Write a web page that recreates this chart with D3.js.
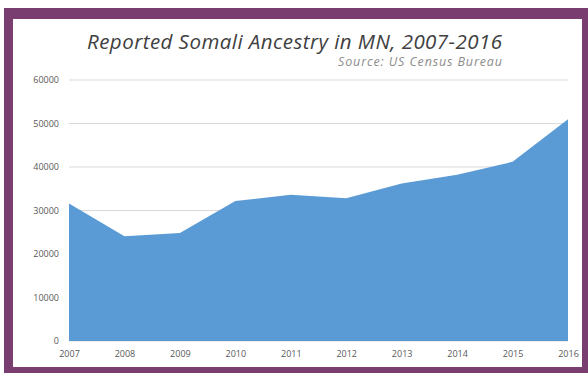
<!DOCTYPE html>
<html>
<head>
<meta charset="utf-8">
<script src="https://cdn.jsdelivr.net/npm/d3@7/dist/d3.min.js"></script>
<style>
  html, body { margin: 0; padding: 0; background: #ffffff; }
  svg { display: block; }
</style>
</head>
<body>
<svg id="chart" width="588" height="373"></svg>
<script>
// Reported Somali ancestry in Minnesota, by year (ACS estimates)
const years = [2007, 2008, 2009, 2010, 2011, 2012, 2013, 2014, 2015, 2016];
const population = [31600, 24100, 24800, 32200, 33600, 32800, 36200, 38200, 41200, 51000];
const yTicks = [0, 10000, 20000, 30000, 40000, 50000, 60000];
const titleText = "Reported Somali Ancestry in MN, 2007-2016";
const sourceText = "Source: US Census Bureau";

const svg = d3.select("#chart");
const W = 588, H = 373;

// purple card frame
svg.append("rect").attr("x", 0).attr("y", 0).attr("width", W).attr("height", H).attr("fill", "#ffffff");
svg.append("rect").attr("x", 4).attr("y", 8).attr("width", W - 4).attr("height", H - 8).attr("fill", "#7a3d70");
svg.append("rect").attr("x", 13).attr("y", 19).attr("width", 569).attr("height", 348).attr("fill", "#ffffff");

const x = d3.scaleLinear().domain([years[0], years[years.length - 1]]).range([69, 568]);
const y = d3.scaleLinear().domain([0, 60000]).range([341, 80]);

// horizontal gridlines
svg.append("g")
  .selectAll("line")
  .data(yTicks)
  .join("line")
  .attr("x1", 69).attr("x2", 568)
  .attr("y1", d => y(d)).attr("y2", d => y(d))
  .attr("stroke", "#d9d9d9").attr("stroke-width", 1);

// filled area
const area = d3.area()
  .x((d, i) => x(years[i]))
  .y0(y(0))
  .y1(d => y(d));
svg.append("path")
  .datum(population)
  .attr("d", area)
  .attr("fill", "#5b9bd5");

// y axis labels
const yAxis = d3.axisLeft(y).tickValues(yTicks).tickSize(0).tickPadding(0).tickFormat(d3.format("d"));
const gy = svg.append("g").attr("transform", "translate(59,0)").call(yAxis);
gy.select(".domain").remove();
gy.selectAll("text")
  .attr("fill", "#595959")
  .style("font-family", "'Open Sans', sans-serif")
  .style("font-size", "9px");

// x axis labels
const xAxis = d3.axisBottom(x).tickValues(years).tickSize(0).tickPadding(0).tickFormat(d3.format("d"));
const gx = svg.append("g").attr("transform", "translate(0,351)").call(xAxis);
gx.select(".domain").remove();
gx.selectAll("text")
  .attr("fill", "#595959")
  .style("font-family", "'Open Sans', sans-serif")
  .style("font-size", "9px");

// title and source
svg.append("text")
  .attr("x", 87).attr("y", 49)
  .attr("textLength", 415)
  .attr("lengthAdjust", "spacing")
  .attr("fill", "#404040")
  .style("font-family", "'Open Sans', sans-serif")
  .style("font-style", "italic")
  .style("font-size", "20.5px")
  .text(titleText);
svg.append("text")
  .attr("x", 338).attr("y", 66)
  .attr("textLength", 164)
  .attr("lengthAdjust", "spacing")
  .attr("fill", "#8c8c8c")
  .style("font-family", "'Open Sans', sans-serif")
  .style("font-style", "italic")
  .style("font-size", "12.5px")
  .text(sourceText);
</script>
</body>
</html>
